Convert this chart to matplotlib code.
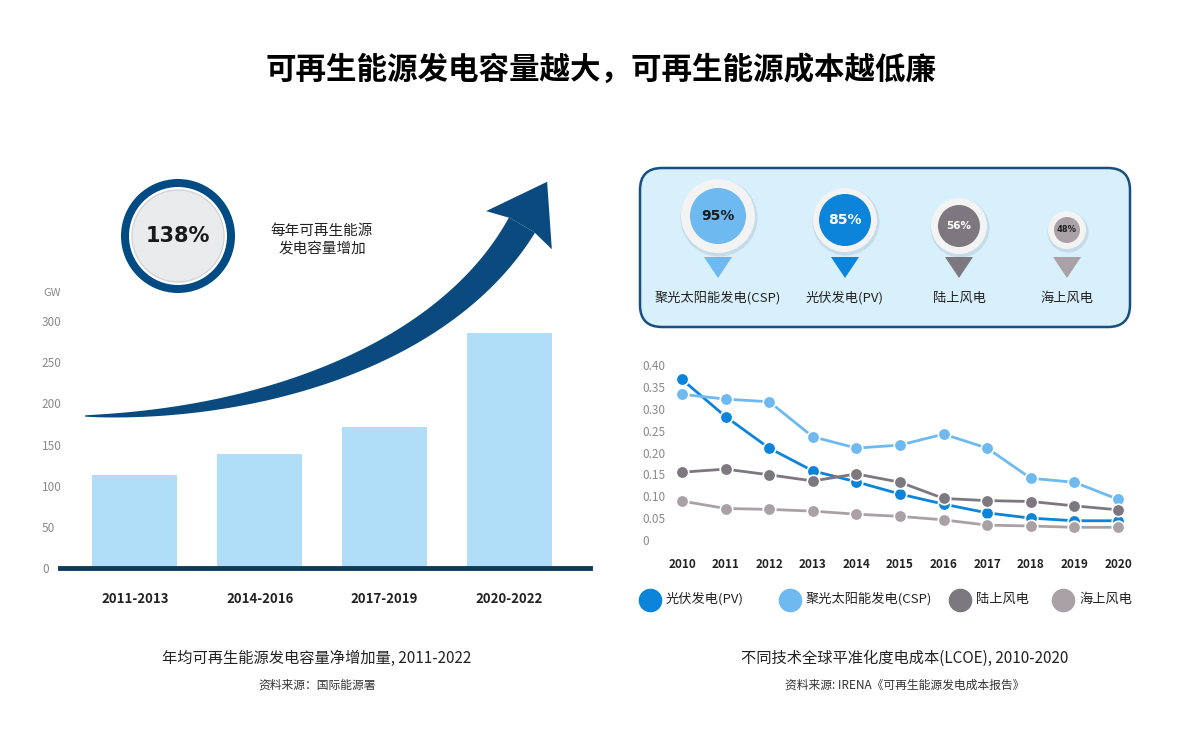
import numpy as np
import matplotlib
matplotlib.use("Agg")
import matplotlib.pyplot as plt
from matplotlib.patches import Circle, Polygon, FancyBboxPatch

plt.rcParams['font.family'] = ['Noto Sans CJK SC', 'DejaVu Sans']

# ---- data ----
periods = ['2011-2013', '2014-2016', '2017-2019', '2020-2022']
capacity_gw = [113, 138, 171, 285]
gw_ticks = [0, 50, 100, 150, 200, 250, 300]

years = list(range(2010, 2021))
lcoe_pv = [0.367, 0.282, 0.210, 0.158, 0.133, 0.105, 0.082, 0.062, 0.050, 0.044, 0.044]
lcoe_csp = [0.333, 0.322, 0.316, 0.236, 0.210, 0.217, 0.242, 0.210, 0.141, 0.132, 0.093]
lcoe_onshore = [0.155, 0.162, 0.149, 0.135, 0.151, 0.132, 0.095, 0.090, 0.088, 0.078, 0.069]
lcoe_offshore = [0.089, 0.072, 0.070, 0.066, 0.059, 0.054, 0.046, 0.034, 0.032, 0.029, 0.029]
lcoe_ticks = [0, 0.05, 0.10, 0.15, 0.20, 0.25, 0.30, 0.35, 0.40]

pin_names = ['聚光太阳能发电(CSP)', '光伏发电(PV)', '陆上风电', '海上风电']
pin_drop = [95, 85, 56, 48]

legend_names = ['光伏发电(PV)', '聚光太阳能发电(CSP)', '陆上风电', '海上风电']

# ---- style ----
W, H = 1202, 739
c_pv, c_csp, c_on, c_off = '#0b84d9', '#6db9f0', '#7d787f', '#aaa1a6'
navy = '#0a4a7f'
grey_txt = '#8a8a8a'

fig = plt.figure(figsize=(W / 100, H / 100), dpi=100)
fig.patch.set_facecolor('white')

# overlay in pixel units for the decorations
bg = fig.add_axes([0, 0, 1, 1])
bg.set_xlim(0, W)
bg.set_ylim(H, 0)
bg.axis('off')


def px_axes(left, top, right, bottom):
    return fig.add_axes([left / W, 1 - bottom / H, (right - left) / W, (bottom - top) / H])


fig.text(0.5, 1 - 70 / H, '可再生能源发电容量越大，可再生能源成本越低廉', ha='center', va='center',
         fontsize=22, fontweight='bold', color='black')

# ---- left: bar chart ----
ax1 = px_axes(60, 321, 590, 568)
ax1.set_facecolor('none')
x = np.arange(len(periods))
ax1.bar(x, capacity_gw, width=0.68, color='#b0def9', zorder=2)
ax1.set_xlim(-0.6, 3.648)
ax1.set_ylim(0, 300)
for s in ['top', 'right', 'left']:
    ax1.spines[s].set_visible(False)
ax1.spines['bottom'].set_color('#0d3b5a')
ax1.spines['bottom'].set_linewidth(3.5)
ax1.spines['bottom'].set_zorder(3)
ax1.set_yticks(gw_ticks)
ax1.set_yticklabels([str(v) for v in gw_ticks])
ax1.set_xticks(x)
ax1.set_xticklabels(periods, fontweight='bold')
ax1.tick_params(axis='y', length=0, pad=13, labelsize=8.5, labelcolor=grey_txt)
ax1.tick_params(axis='x', length=0, pad=17, labelsize=9.5, labelcolor='#222222')
for lab in ax1.get_yticklabels():
    lab.set_horizontalalignment('left')
bg.text(52, 293, 'GW', ha='center', va='center', fontsize=8, color=grey_txt)

# swoosh arrow (tapered bezier body + swept head)
P3 = np.array([522.0, 225.0])
d_end = np.array([0.503, -0.865])
P0, P1, P2 = np.array([85.0, 416.0]), np.array([260.0, 416.0]), P3 - 150 * d_end
t = np.linspace(0, 1, 150)[:, None]
curve = (1 - t) ** 3 * P0 + 3 * (1 - t) ** 2 * t * P1 + 3 * (1 - t) * t ** 2 * P2 + t ** 3 * P3
deriv = 3 * (1 - t) ** 2 * (P1 - P0) + 6 * (1 - t) * t * (P2 - P1) + 3 * t ** 2 * (P3 - P2)
norm = deriv / np.linalg.norm(deriv, axis=1)[:, None]
perp = np.column_stack([-norm[:, 1], norm[:, 0]])
half = 14.5 * t[:, 0] ** 0.8 + 0.6
upper = curve + perp * half[:, None]
lower = curve - perp * half[:, None]
bg.add_patch(Polygon(np.vstack([upper, lower[::-1]]), closed=True, color=navy, lw=0))
d = norm[-1]
pp = perp[-1]
head = [P3 + pp * 14, P3 + pp * 38 - d * 6, P3 + d * 50, P3 - pp * 38 - d * 6, P3 - pp * 14]
bg.add_patch(Polygon(head, closed=True, color=navy, lw=0))

# 138% badge
cx, cy = 178, 236
bg.add_patch(Circle((cx, cy), 57, color='#004b84', lw=0))
bg.add_patch(Circle((cx, cy), 49, color='white', lw=0))
bg.add_patch(Circle((cx, cy), 46, facecolor='#e9ebed', edgecolor='#d2d5d8', lw=1))
bg.text(cx, cy, '138%', ha='center', va='center', fontsize=15, fontweight='bold',
        color='#1a1a1a', family='DejaVu Sans')
bg.text(322, 240, '每年可再生能源\n发电容量增加', ha='center', va='center', fontsize=10.5,
        color='#222222', linespacing=1.3)

bg.text(317, 658, '年均可再生能源发电容量净增加量, 2011-2022', ha='center', va='center',
        fontsize=11, color='#222222')
bg.text(317, 685, '资料来源：国际能源署', ha='center', va='center', fontsize=8.5, color='#333333')

# ---- right top: capacity factor pins ----
bg.add_patch(FancyBboxPatch((640, 168), 490, 159, boxstyle='round,pad=0,rounding_size=22',
                            facecolor='#d8effc', edgecolor='#174f80', lw=1.8))
pin_x = [718, 845, 959, 1067]
pin_y = [216, 220, 226, 230]
pin_outer = [37, 32, 28, 19]
pin_inner = [28, 26, 21, 13]
pin_cols = [c_csp, c_pv, c_on, c_off]
pin_txt_col = ['#1a1a1a', 'white', 'white', '#222222']
pin_fs = [10, 10, 7.5, 6]
for i, name in enumerate(pin_names):
    px, py = pin_x[i], pin_y[i]
    bg.add_patch(Circle((px + 1, py + 2), pin_outer[i] + 1.5, color='#b9cfdd', alpha=0.6, lw=0))
    bg.add_patch(Circle((px, py), pin_outer[i], color='#f3f3f3', lw=0))
    bg.add_patch(Circle((px, py), pin_inner[i], color=pin_cols[i], lw=0))
    bg.text(px, py, f'{pin_drop[i]}%', ha='center', va='center', fontsize=pin_fs[i],
            fontweight='bold', color=pin_txt_col[i], family='DejaVu Sans')
    bg.add_patch(Polygon([(px - 14, 257), (px + 14, 257), (px, 278)], closed=True,
                         color=pin_cols[i], lw=0))
    bg.text(px, 298, name, ha='center', va='center', fontsize=9.5, color='#222222')

# ---- right: LCOE line chart ----
ax2 = px_axes(660, 355, 1140, 550)
ax2.set_facecolor('none')
ppy = (1118 - 682) / 10
ax2.set_xlim(2010 - (682 - 660) / ppy, 2020 + (1140 - 1118) / ppy)
ppv = (540 - 365) / 0.40
ax2.set_ylim(-(550 - 540) / ppv, 0.40 + (365 - 355) / ppv)
series = [(lcoe_pv, c_pv), (lcoe_csp, c_csp), (lcoe_onshore, c_on), (lcoe_offshore, c_off)]
for vals, col in series:
    ax2.plot(years, vals, color=col, lw=2, marker='o', markersize=9,
             markeredgecolor='white', markeredgewidth=1.2)
for s in ax2.spines.values():
    s.set_visible(False)
ax2.set_yticks(lcoe_ticks)
ax2.set_yticklabels(['0' if v == 0 else f'{v:.2f}' for v in lcoe_ticks])
ax2.set_xticks(years)
ax2.set_xticklabels([str(y) for y in years], fontweight='bold')
ax2.tick_params(axis='y', length=0, pad=13, labelsize=8.5, labelcolor=grey_txt)
ax2.tick_params(axis='x', length=0, pad=6, labelsize=8.5, labelcolor='#222222')
for lab in ax2.get_yticklabels():
    lab.set_horizontalalignment('left')

# legend
leg_x = [650, 790, 960, 1063]
leg_cols = [c_pv, c_csp, c_on, c_off]
for i, name in enumerate(legend_names):
    bg.plot(leg_x[i], 600, marker='o', markersize=17, color=leg_cols[i], mec='none')
    bg.text(leg_x[i] + 16, 599, name, ha='left', va='center', fontsize=9.5, color='#222222')

bg.text(905, 658, '不同技术全球平准化度电成本(LCOE), 2010-2020', ha='center', va='center',
        fontsize=11, color='#222222')
bg.text(905, 685, '资料来源: IRENA《可再生能源发电成本报告》', ha='center', va='center',
        fontsize=8.5, color='#333333')

fig.savefig('out.png', dpi=100)
